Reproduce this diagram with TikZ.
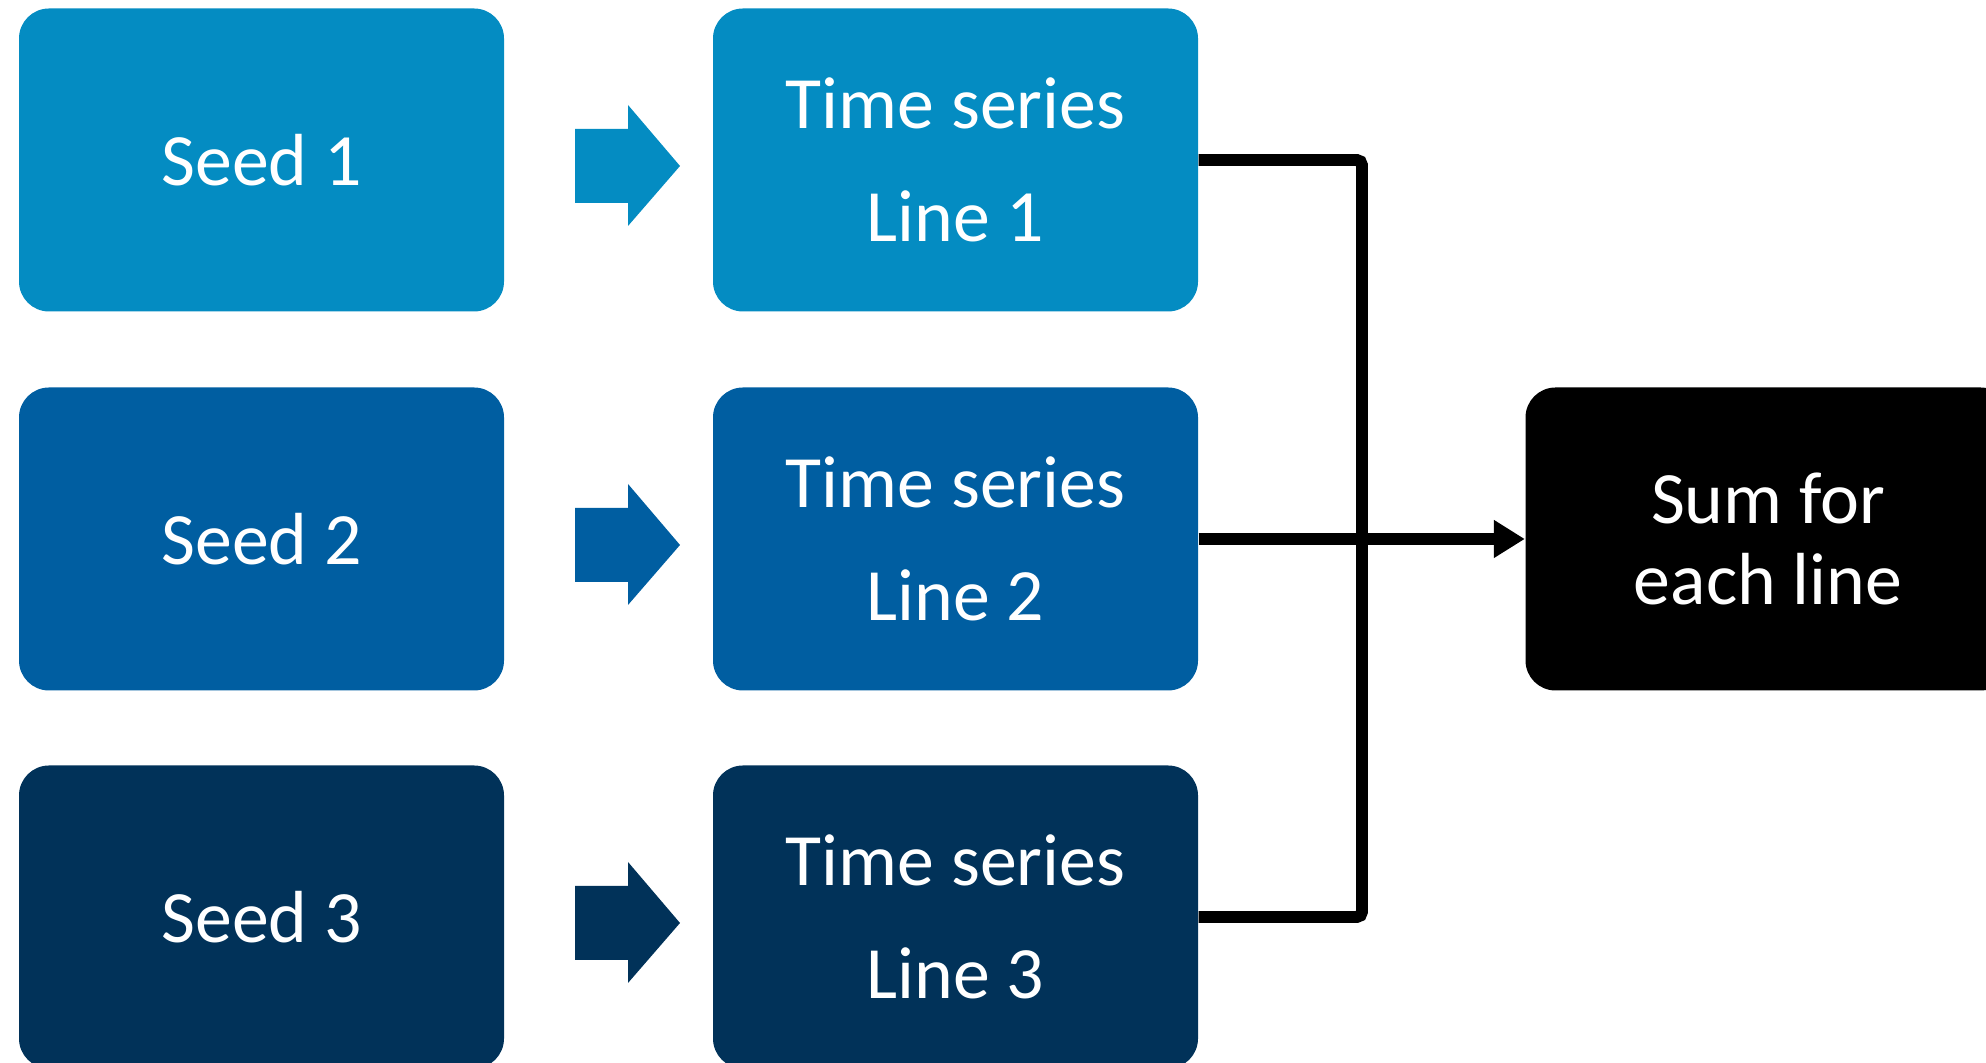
\documentclass[tikz,border=0pt]{standalone}
\usepackage{fontspec}
\setmainfont{Carlito}
\usetikzlibrary{arrows.meta}

\definecolor{rowA}{RGB}{4,140,194}
\definecolor{rowB}{RGB}{0,94,161}
\definecolor{rowC}{RGB}{1,50,89}

\begin{document}
\begin{tikzpicture}[
    >={Triangle[length=3.1mm,width=3.6mm]},
    box/.style={rounded corners=0.3cm, minimum width=4.85cm,
        minimum height=3.03cm, inner sep=0pt, text=white, align=center,
        font=\fontsize{21}{32}\selectfont},
    link/.style={line width=3.4pt},
]
\clip (0,0) rectangle (19.86,10.63);

% Seed and time series boxes, one row per seed
\foreach \i/\y/\c in {1/9.03/rowA, 2/5.24/rowB, 3/1.46/rowC} {
    \node[box, fill=\c] (seed\i) at (2.615,\y) {Seed \i};
    \node[box, fill=\c] (ts\i) at (9.555,\y) {Time series\\Line \i};
    % block arrow between them
    \fill[\c] (5.75,\y+0.31) -- (6.28,\y+0.31) -- (6.28,\y+0.55)
        -- (6.80,\y-0.06) -- (6.28,\y-0.66) -- (6.28,\y-0.43)
        -- (5.75,\y-0.43) -- cycle;
}

% Sum box
\node[box, fill=black, font=\fontsize{21}{23}\selectfont] (sum)
    at (17.68,5.24) {Sum for\\each line};

% Bracket joining the outer lines
\coordinate (bus) at (13.62,5.24);
\draw[link, rounded corners=1.5pt] (ts1.east) -| (bus) |- (ts3.east);

% Middle line into the sum
\draw[link,->] (ts2.east) -- (sum.west);
\end{tikzpicture}
\end{document}
